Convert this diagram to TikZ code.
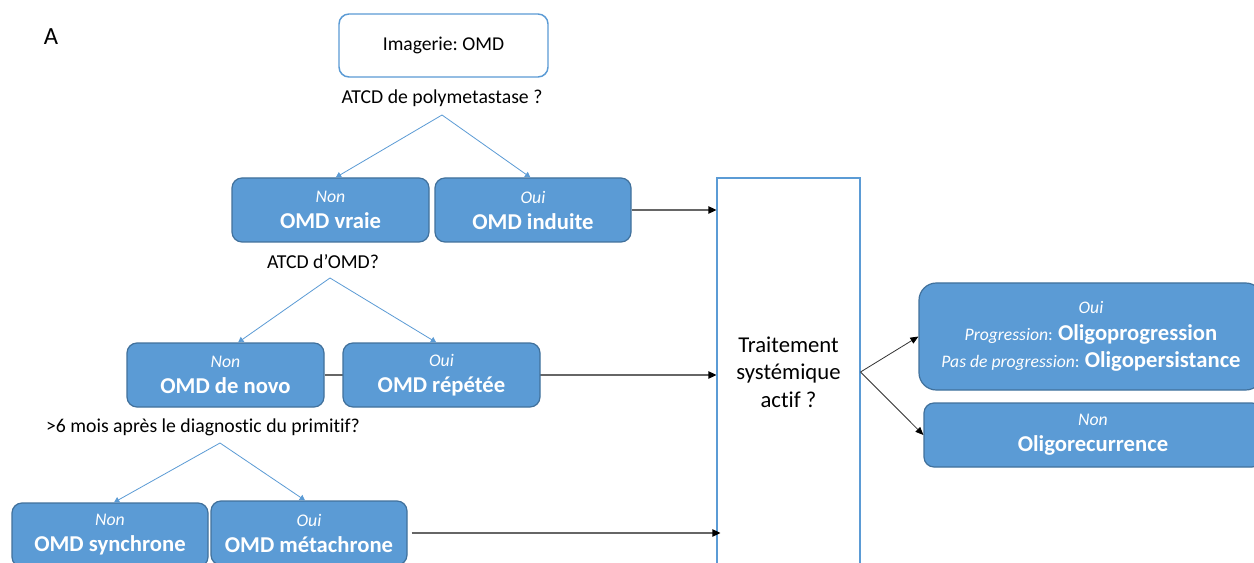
\documentclass[tikz,border=0pt]{standalone}
\usepackage{fontspec}
\setmainfont{Carlito}[Ligatures=NoCommon]
\frenchspacing
\usetikzlibrary{arrows.meta,backgrounds}
\definecolor{obl}{HTML}{5B9BD5}
\definecolor{obd}{HTML}{41719C}
\newcommand\twoline[2]{{\fontsize{13.3}{15}\selectfont\mdseries\itshape #1}\\#2}
\newcommand\smit[1]{{\fontsize{13.2}{15}\selectfont\mdseries\itshape #1}}
\begin{document}
\begin{tikzpicture}[x=0.75pt,y=-0.75pt,
  bluebox/.style={draw=obd, line width=0.9pt, fill=obl, rounded corners=7.5pt, text=white,
    align=center, minimum height=48pt, inner sep=0pt, font=\fontsize{17}{19.5}\selectfont\bfseries},
  whitebox/.style={draw=obl, line width=1.1pt, fill=white, rounded corners=7.5pt, inner sep=0pt},
  qlabel/.style={font=\fontsize{14.8}{17}\selectfont, inner sep=0pt},
  branch/.style={draw=obl, line width=0.6pt, -{Triangle[width=4.5pt,length=4pt]}},
  flow/.style={draw=black!60, line width=0.9pt, -{Triangle[width=5.5pt,length=6pt,color=black]}},
  dflow/.style={draw=black!80, line width=0.6pt, -{Triangle[width=5pt,length=6pt,color=black]}}
]
\useasboundingbox (0,0) rectangle (1254,563);
\clip (0,0) rectangle (1254,563);
\begin{scope}[on background layer]
\fill[white] (0,0) rectangle (1254,563);
\end{scope}

\node[font=\fontsize{18.5}{20}\selectfont, inner sep=0pt] (lblA) at (51,37) {A};

\node[whitebox, minimum width=156.75pt, minimum height=47.25pt, font=\fontsize{14.7}{17}\selectfont] (img) at (443.5,45.5) {Imagerie: OMD};
\node[qlabel] (q1) at (442,98) {ATCD de polymetastase ?};
\coordinate (a1) at (442,115);

\node[bluebox, minimum width=147.75pt] (vraie) at (330.5,210) {\twoline{Non}{OMD vraie}};
\node[bluebox, minimum width=147pt] (induite) at (533,210) {\twoline{Oui}{OMD induite}};

\node[qlabel] (q2) at (323,262) {ATCD d’OMD?};
\coordinate (a2) at (330,278);

\node[bluebox, minimum width=147.75pt] (novo) at (225.5,375) {\twoline{Non}{OMD de novo}};
\node[bluebox, minimum width=147.75pt] (repetee) at (441.5,375) {\twoline{Oui}{OMD répétée}};

\node[qlabel] (q3) at (203,427) {>6 mois après le diagnostic du primitif?};
\coordinate (a3) at (220,443);

\node[bluebox, minimum width=147pt] (sync) at (110,535) {\twoline{Non}{OMD synchrone}};
\node[bluebox, minimum width=147pt] (meta) at (309,533) {\twoline{Oui}{OMD métachrone}};

\node[draw=obl, line width=0.8pt, fill=white, minimum width=107.25pt, minimum height=291pt,
  align=center, font=\fontsize{17}{20.5}\selectfont] (trait) at (788.5,372) {Traitement\\systémique\\actif ?};

\node[bluebox, rounded corners=13pt, minimum width=258pt, minimum height=80.25pt, font=\fontsize{17}{20.2}\selectfont\bfseries] (oui) at (1091,336.5)
  {\smit{Oui}\\\smit{Progression}{\mdseries\fontsize{13.2}{15}\selectfont:} Oligoprogression\\\smit{Pas de progression}{\mdseries\fontsize{13.2}{15}\selectfont:} Oligopersistance};
\node[bluebox, minimum width=253.5pt] (non) at (1093,435) {\twoline{Non}{Oligorecurrence}};

% branches
\draw[branch] (a1) -- ([xshift=4pt]vraie.north);
\draw[branch] (a1) -- ([xshift=-2pt]induite.north);
\draw[branch] (a2) -- ([xshift=9.5pt]novo.north);
\draw[branch] (a2) -- ([xshift=-4pt]repetee.north);
\draw[branch] (a3) -- ([xshift=3pt]sync.north);
\draw[branch] (a3) -- ([xshift=-3pt]meta.north);

% flows
\draw[flow] (induite.east) -- (induite.east -| trait.west);
\begin{scope}[on background layer]
\draw[flow] (novo.east) -- (novo.east -| trait.west);
\end{scope}
\draw[flow] ([xshift=3pt]meta.east) -- ([xshift=3pt]meta.east -| trait.west);
\draw[dflow] (trait.east) -- (oui.west);
\draw[dflow] (trait.east) -- (non.west);
\end{tikzpicture}
\end{document}
